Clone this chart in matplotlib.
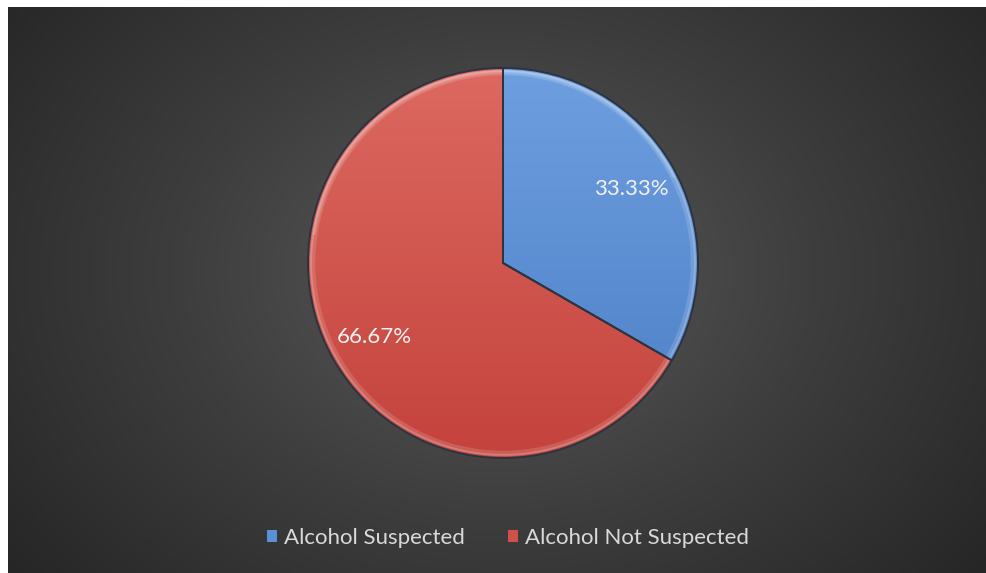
import matplotlib.pyplot as plt
import numpy as np
from matplotlib.patches import Patch
from matplotlib.colors import LinearSegmentedColormap

# Data
labels = ["Alcohol Suspected", "Alcohol Not Suspected"]
shares = [33.33, 66.67]
colors = ["#5b8fd6", "#d0504a"]
tops = ["#6d9fe0", "#dc6961"]
bottoms = ["#4c7ec6", "#c4433c"]

plt.rcParams['font.family'] = ['Lato', 'DejaVu Sans']

W, H = 986, 573
fig = plt.figure(figsize=(W / 100, H / 100), dpi=100, facecolor="white")

# dark radial background inside the white border
bg = fig.add_axes([8 / W, 0, (W - 8) / W, (H - 7) / H])
bg.set_axis_off()
yy, xx = np.mgrid[0:300, 0:500]
cx, cy = 250, 140
d = np.sqrt(((xx - cx) / 330.0) ** 2 + ((yy - cy) / 260.0) ** 2)
d = np.clip(d, 0, 1)
bg_cmap = LinearSegmentedColormap.from_list("bg", ["#5a5a5a", "#3e3e3e", "#262626"])
bg.imshow(d, cmap=bg_cmap, aspect="auto", extent=[0, 1, 0, 1])
bg.set_xlim(0, 1)
bg.set_ylim(0, 1)

# pie axes: centre (503, 263) px, radius 195 px
r_px = 195
ax = fig.add_axes([(503 - r_px) / W, (H - 263 - r_px) / H, 2 * r_px / W, 2 * r_px / H])
ax.set_axis_off()

wedges, texts, autotexts = ax.pie(
    shares, colors=colors, startangle=90, counterclock=False,
    autopct="%.2f%%", pctdistance=0.76, radius=1.0,
    wedgeprops=dict(edgecolor="#2b3440", linewidth=1.4),
    textprops=dict(color="#f2f2f2", fontsize=16))
ax.set_xlim(-1, 1)
ax.set_ylim(-1, 1)
ax.set_aspect("equal")

# vertical gradient fill clipped to each wedge
grad = np.linspace(0, 1, 256).reshape(-1, 1)
for w, top, bot in zip(wedges, tops, bottoms):
    cmap = LinearSegmentedColormap.from_list("g", [top, bot])
    im = ax.imshow(grad, cmap=cmap, extent=[-1, 1, -1, 1], aspect="auto", zorder=1.5)
    im.set_clip_path(w)
    w.set_zorder(2)
    w.set_facecolor("none")

# soft bevel highlight near the rim, stronger on the upper side
theta = np.linspace(0, 2 * np.pi, 400)
for rr, lw, a in [(0.975, 3.5, 0.14), (0.985, 1.6, 0.2)]:
    ax.plot(rr * np.cos(theta), rr * np.sin(theta), color="white", lw=lw, alpha=a, zorder=1.8)
up = np.linspace(0.15 * np.pi, 0.95 * np.pi, 200)
ax.plot(0.98 * np.cos(up), 0.98 * np.sin(up), color="white", lw=2.5, alpha=0.15, zorder=1.8)

for t in autotexts:
    t.set_zorder(3)

handles = [Patch(facecolor=c, edgecolor="none") for c in colors]
fig.legend(handles, labels, loc="center", bbox_to_anchor=(508 / W, (H - 538) / H),
           ncol=2, frameon=False, fontsize=16, labelcolor="#d9d9d9",
           handlelength=0.45, handleheight=0.45, handletextpad=0.35, columnspacing=1.9)

fig.savefig("out.png", dpi=100, facecolor="white")
